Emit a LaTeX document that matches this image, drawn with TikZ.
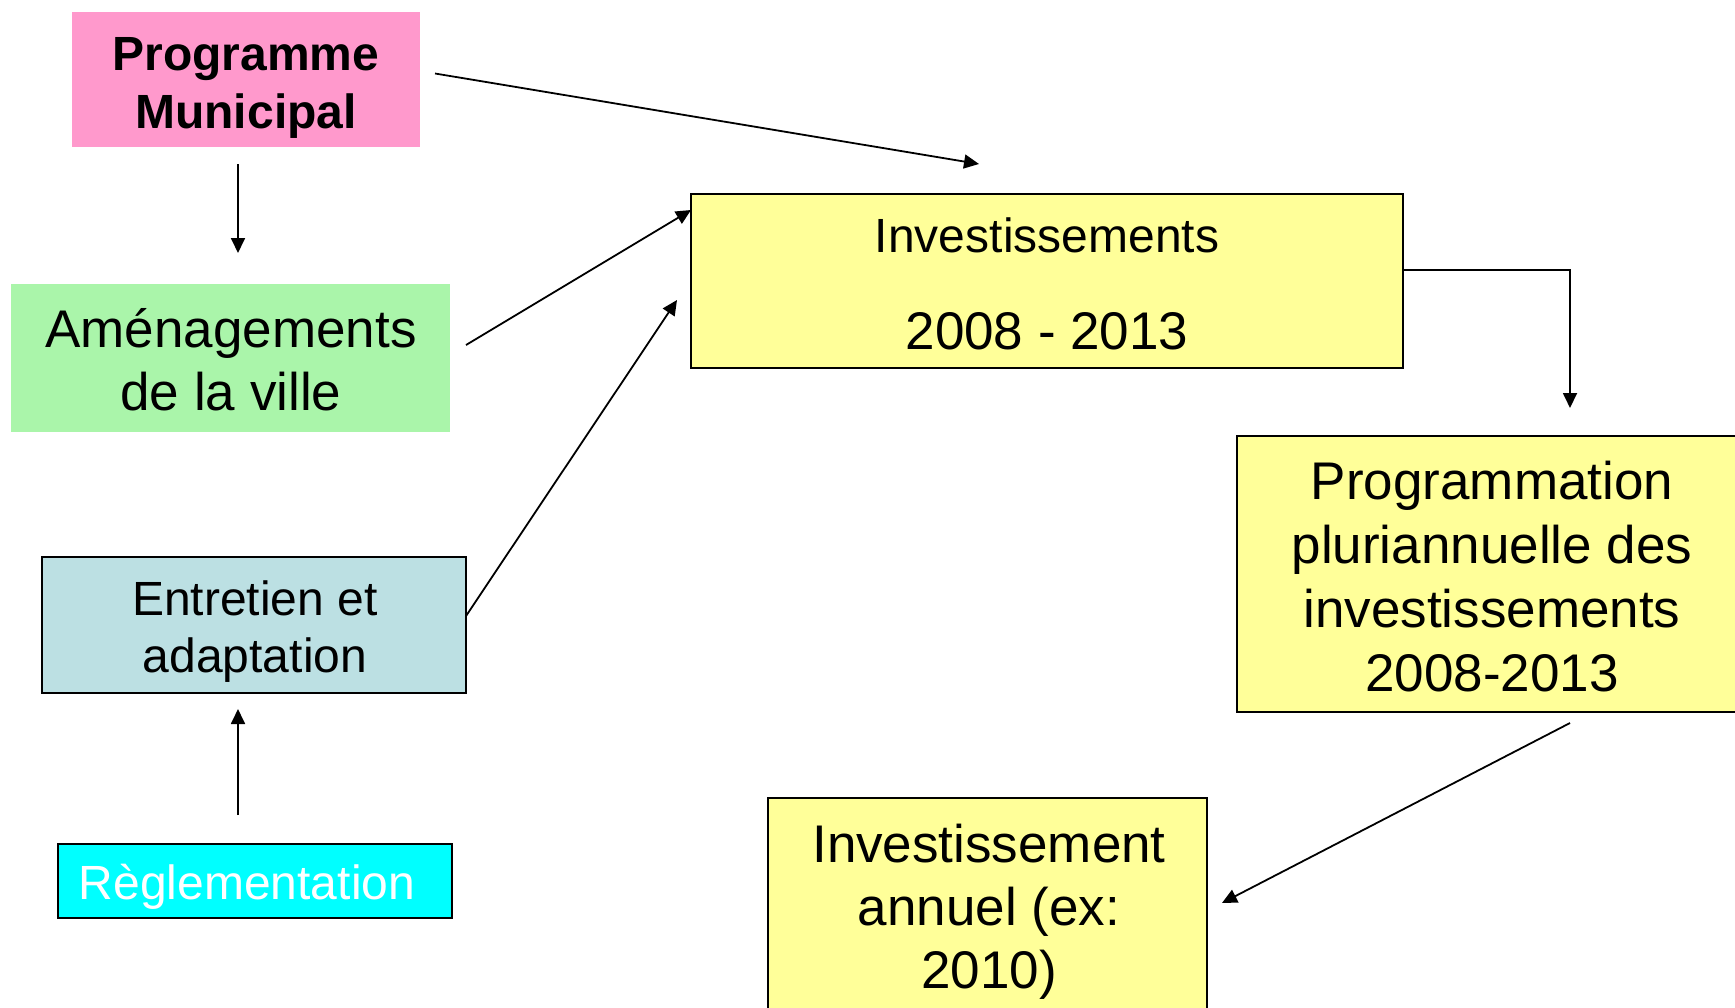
\documentclass[tikz,border=0pt]{standalone}
\usepackage{fontspec}
\setmainfont{Liberation Sans}
\usetikzlibrary{arrows.meta}
\definecolor{pmPink}{RGB}{255,153,204}
\definecolor{amGreen}{RGB}{170,245,170}
\definecolor{enBlue}{RGB}{188,224,227}
\definecolor{reCyan}{RGB}{0,255,255}
\definecolor{invYellow}{RGB}{255,255,153}
\begin{document}
\begin{tikzpicture}[x=1pt,y=-1pt,
  boxA/.style={rectangle, inner sep=0pt, outer sep=0pt},
  framed/.style={draw=black, line width=1.6pt},
  txt/.style={inner sep=0pt, outer sep=0pt, align=flush center, anchor=base},
  arr/.style={draw=black, line width=1.8pt, -{Triangle[length=15pt,width=14pt]}}]
\useasboundingbox (0,0) rectangle (1735,1007);
\clip (0,0) rectangle (1735,1007);
\fill[white] (0,0) rectangle (1735,1007);

% boxes
\node[boxA, fill=pmPink, minimum width=348pt, minimum height=135pt] (pm) at (246,79.5) {};
\node[boxA, fill=amGreen, minimum width=439pt, minimum height=148pt] (am) at (230.5,358) {};
\node[boxA, framed, fill=enBlue, minimum width=424pt, minimum height=136pt] (en) at (254,625) {};
\node[boxA, framed, fill=reCyan, minimum width=394pt, minimum height=74pt] (re) at (255,881) {};
\node[boxA, framed, fill=invYellow, minimum width=712pt, minimum height=174pt] (inv) at (1047,281) {};
\node[boxA, framed, fill=invYellow, minimum width=510pt, minimum height=276pt] (pr) at (1492,574) {};
\node[boxA, framed, fill=invYellow, minimum width=439pt, minimum height=232pt] (an) at (987.5,914) {};

% texts
\node[txt, text width=348pt, font=\bfseries\fontsize{48pt}{58pt}\selectfont] (pmT) at (246,70) {Programme\\Municipal};
\node[txt, text width=439pt, font=\fontsize{53pt}{63pt}\selectfont] (amT) at (231,347) {Aménagements\\de la ville};
\node[txt, text width=424pt, font=\fontsize{48pt}{57pt}\selectfont] (enT) at (255,615) {Entretien et\\adaptation};
\node[txt, text=white, font=\fontsize{48pt}{57pt}\selectfont] (reT) at (247,899) {Règlementation};
\node[txt, font=\fontsize{48pt}{57pt}\selectfont] (invT1) at (1047,252) {Investissements};
\node[txt, font=\fontsize{53pt}{63pt}\selectfont] (invT2) at (1047,349) {2008 - 2013};
\node[txt, text width=510pt, font=\fontsize{53pt}{64pt}\selectfont] (prT) at (1492,499) {Programmation\\pluriannuelle des\\investissements\\2008-2013};
\node[txt, text width=439pt, font=\fontsize{53pt}{63pt}\selectfont] (anT) at (989,862) {Investissement\\annuel (ex:\\2010)};

% connector ends
\coordinate (invTop) at ([xshift=-68pt,yshift=30pt]inv.north);
\coordinate (prIn) at ([xshift=78pt,yshift=28pt]pr.north);

% connectors
\draw[arr] ([xshift=15pt,yshift=6pt]pm.east) -- (invTop);
\draw[arr] ([xshift=-8pt,yshift=-17pt]pm.south) -- ([xshift=7.5pt,yshift=31pt]am.north);
\draw[arr] ([xshift=16pt,yshift=13pt]am.east) -- ([yshift=-16pt]inv.north west);
\draw[arr] ([yshift=9pt]en.east) -- ([xshift=-14pt,yshift=-19pt]inv.west);
\draw[arr] ([xshift=-17pt,yshift=29pt]re.north) -- ([xshift=-16pt,yshift=-16pt]en.south);
\draw[arr] ([yshift=11pt]inv.east) -| (prIn);
\draw[arr] ([xshift=78pt,yshift=-11pt]pr.south) -- ([xshift=15pt,yshift=11pt]an.east);
\end{tikzpicture}
\end{document}
